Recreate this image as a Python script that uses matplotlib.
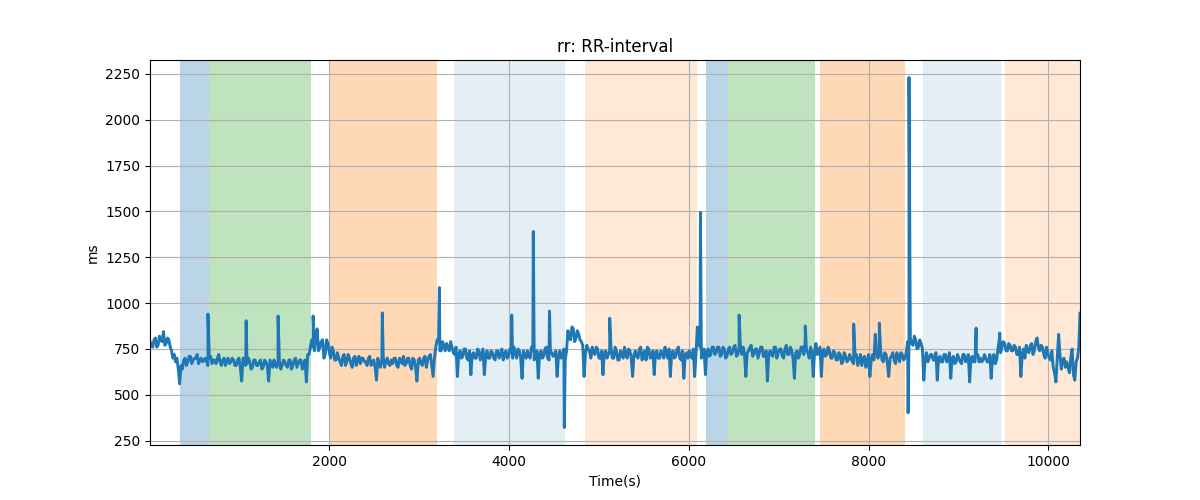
import numpy as np
from matplotlib import pyplot as plt


# RR-interval samples, one value every 30 s starting at t = 5 s
rr_base = [
    790, 760, 810, 770, 800, 845, 780, 800, 740, 720,
    700, 560, 640, 700, 680, 710, 690, 700, 670, 700,
    690, 680, 700, 670, 690, 700, 675, 690, 660, 700,
    680, 690, 660, 700, 575, 690, 670, 680, 650, 690,
    660, 690, 650, 680, 575, 670, 690, 650, 680, 660,
    680, 650, 690, 660, 700, 670, 690, 660, 570, 720,
    800, 740, 860, 760, 800, 720, 780, 700, 740, 690,
    700, 660, 720, 680, 700, 650, 710, 690, 670, 700,
    680, 700, 660, 690, 580, 670, 690, 650, 700, 660,
    670, 700, 650, 690, 710, 670, 700, 640, 690, 575,
    700, 660, 710, 690, 720, 600, 760, 790, 740, 770,
    780, 740, 760, 720, 600, 740, 710, 750, 690, 610,
    730, 700, 740, 720, 610, 740, 700, 730, 690, 740,
    720, 690, 740, 710, 730, 760, 700, 740, 590, 720,
    740, 700, 750, 720, 590, 740, 710, 760, 690, 730,
    720, 600, 740, 710, 690, 850, 800, 860, 810, 830,
    790, 600, 770, 740, 760, 720, 750, 700, 610, 740,
    720, 750, 700, 740, 690, 730, 760, 700, 740, 600,
    740, 700, 760, 720, 690, 750, 710, 610, 740, 700,
    730, 760, 700, 600, 740, 710, 760, 690, 590, 730,
    740, 700, 600, 870, 760, 720, 610, 750, 720, 760,
    730, 760, 720, 750, 710, 760, 730, 770, 720, 750,
    760, 600, 740, 770, 720, 750, 730, 760, 710, 575,
    740, 710, 760, 730, 750, 700, 770, 720, 740, 590,
    740, 720, 760, 790, 730, 760, 600, 780, 740, 600,
    750, 720, 740, 700, 730, 690, 720, 680, 710, 690,
    700, 670, 720, 690, 660, 710, 680, 600, 720, 830,
    700, 740, 680, 720, 600, 710, 690, 730, 680, 720,
    700, 790, 810, 770, 800, 760, 780, 580, 730, 700,
    720, 690, 580, 710, 680, 720, 690, 590, 710, 680,
    700, 670, 720, 690, 570, 710, 680, 720, 700, 690,
    700, 680, 590, 720, 690, 800, 760, 780, 740, 770,
    740, 760, 720, 600, 750, 770, 730, 780, 740, 810,
    740, 760, 700, 730, 690, 650, 570, 830, 640, 700,
    680, 620, 750, 580, 700,
]

# in-between samples, one value every 30 s starting at t = 20 s
rr_mid = [
    770, 800, 760, 820, 790, 770, 810, 760, 700, 680,
    640, 660, 690, 660, 710, 670, 700, 720, 690, 680,
    700, 660, 710, 690, 670, 720, 660, 700, 690, 670,
    700, 660, 690, 650, 700, 660, 700, 640, 690, 660,
    680, 640, 690, 660, 690, 650, 660, 690, 640, 690,
    660, 690, 640, 690, 650, 690, 640, 690, 720, 760,
    760, 810, 740, 790, 700, 800, 730, 760, 690, 730,
    680, 710, 660, 720, 670, 700, 660, 710, 700, 680,
    660, 710, 680, 650, 700, 650, 710, 680, 670, 690,
    700, 660, 700, 670, 660, 700, 660, 700, 650, 690,
    670, 700, 650, 710, 660, 700, 800, 740, 790, 740,
    760, 790, 730, 760, 720, 700, 750, 700, 740, 720,
    700, 750, 690, 750, 710, 700, 740, 700, 740, 700,
    750, 720, 700, 750, 700, 730, 750, 700, 740, 700,
    710, 760, 690, 740, 720, 700, 750, 700, 740, 710,
    740, 710, 700, 750, 740, 810, 870, 790, 850, 800,
    770, 720, 750, 700, 730, 760, 700, 740, 730, 700,
    740, 700, 760, 690, 740, 700, 720, 750, 700, 720,
    710, 750, 690, 740, 760, 700, 740, 730, 700, 740,
    700, 720, 750, 730, 700, 750, 700, 740, 720, 700,
    710, 750, 720, 780, 700, 750, 730, 710, 760, 720,
    760, 710, 760, 700, 750, 720, 760, 710, 760, 720,
    720, 730, 760, 710, 750, 700, 760, 710, 740, 720,
    720, 760, 700, 750, 710, 750, 720, 760, 700, 730,
    700, 760, 720, 740, 700, 730, 740, 720, 760, 740,
    710, 760, 700, 740, 690, 730, 670, 730, 680, 720,
    680, 710, 660, 720, 700, 650, 720, 690, 690, 730,
    730, 690, 730, 670, 700, 730, 670, 710, 730, 690,
    730, 760, 780, 820, 750, 800, 750, 700, 680, 720,
    690, 730, 700, 680, 720, 680, 730, 700, 670, 720,
    680, 720, 680, 720, 700, 680, 720, 680, 680, 720,
    680, 720, 700, 670, 750, 730, 790, 740, 780, 740,
    770, 720, 760, 720, 700, 740, 770, 720, 790, 760,
    770, 720, 760, 700, 740, 620, 700, 720, 690, 650,
    650, 700, 610, 680, 760,
]

# isolated beats (ectopics / artefacts)
spike_time = [650, 1075, 1430, 1820, 2590, 3225, 4030, 4270, 4450, 4615,
              5120, 6130, 6560, 7296, 7835, 8120, 8440, 8450, 9197, 9460, 10353]
spike_rr = [940, 904, 930, 930, 947, 1085, 935, 1390, 957, 322,
            918, 1495, 935, 875, 886, 891, 402, 2230, 864, 837, 945]

# annotated segments
seg_start = [339, 666, 2000, 3390, 4840, 6190, 6437, 7460, 8607, 9520]
seg_end = [666, 1795, 3200, 4620, 6096, 6437, 7403, 8407, 9476, 10360]
seg_color = ['C0', 'C2', 'C1', 'C0', 'C1', 'C0', 'C2', 'C1', 'C0', 'C1']
seg_alpha = [0.3, 0.3, 0.3, 0.12, 0.17, 0.3, 0.3, 0.3, 0.12, 0.17]


t_base = 5 + 30 * np.arange(len(rr_base))
t_mid = 20 + 30 * np.arange(len(rr_mid))
t = np.concatenate([t_base, t_mid, spike_time])
rr = np.concatenate([rr_base, rr_mid, spike_rr])
order = np.argsort(t, kind='stable')
t, rr = t[order], rr[order]

fig, ax = plt.subplots(figsize=(12, 5), dpi=100)
for s, e, c, a in zip(seg_start, seg_end, seg_color, seg_alpha):
    ax.axvspan(s, e, color=c, alpha=a, lw=0)
ax.plot(t, rr, color='C0', lw=2.1)
ax.set_xlim(t[0], t[-1])
ax.grid(True)
ax.set_title('rr: RR-interval')
ax.set_xlabel('Time(s)')
ax.set_ylabel('ms')

plt.savefig('out.png')
plt.close()
